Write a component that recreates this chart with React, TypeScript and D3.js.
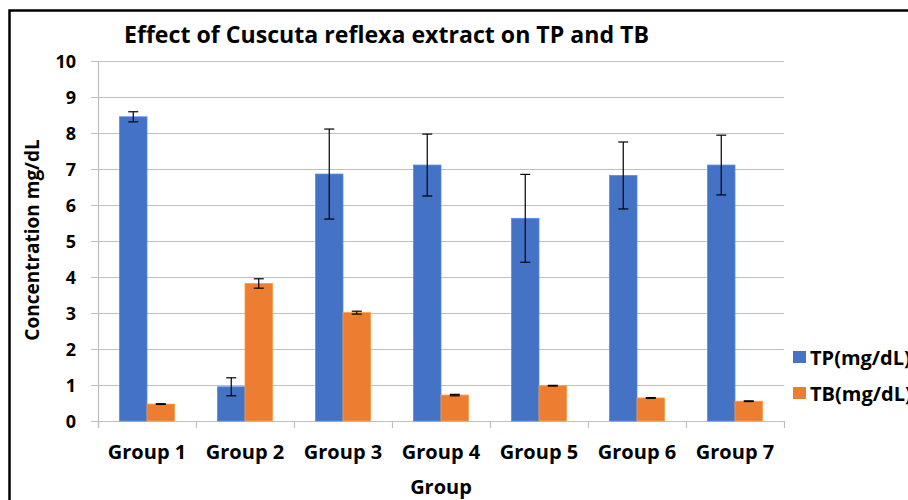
import React, { useEffect, useRef } from 'react';
import * as d3 from 'd3';

const groups = ['Group 1', 'Group 2', 'Group 3', 'Group 4', 'Group 5', 'Group 6', 'Group 7'];
const seriesNames = ['TP(mg/dL)', 'TB(mg/dL)'];
const tpValues = [8.45, 0.95, 6.86, 7.11, 5.63, 6.82, 7.11];
const tpErrors = [0.14, 0.25, 1.25, 0.86, 1.22, 0.93, 0.83];
const tbValues = [0.47, 3.82, 3.01, 0.72, 0.98, 0.64, 0.55];
const tbErrors = [0.01, 0.13, 0.04, 0.02, 0.01, 0.01, 0.01];
const yTicks = [0, 1, 2, 3, 4, 5, 6, 7, 8, 9, 10];

const colors = ['#4472C4', '#ED7D31'];
const FONT = '"Open Sans", "Noto Sans", sans-serif';

const App: React.FC = () => {
    const ref = useRef<SVGSVGElement>(null);

    useEffect(() => {
        const svg = d3.select(ref.current);
        svg.selectAll('*').remove();

        const width = 908;
        const height = 500;
        const plot = { left: 98, right: 784, top: 61, bottom: 421 };

        svg.append('rect')
            .attr('width', width)
            .attr('height', height)
            .attr('fill', '#fff');

        // outer frame, cropped at the right and bottom
        svg.append('rect')
            .attr('x', 9.5)
            .attr('y', 10.5)
            .attr('width', 1000)
            .attr('height', 600)
            .attr('fill', 'none')
            .attr('stroke', '#000')
            .attr('stroke-width', 2.5);

        const x = d3.scaleBand<string>()
            .domain(groups)
            .range([plot.left, plot.right])
            .paddingInner(0)
            .paddingOuter(0);

        const inner = d3.scaleBand<string>()
            .domain(seriesNames)
            .range([21.5, x.bandwidth() - 21.5]);

        const y = d3.scaleLinear()
            .domain([0, 10])
            .range([plot.bottom, plot.top]);

        // gridlines
        svg.append('g')
            .selectAll('line')
            .data(yTicks)
            .enter()
            .append('line')
            .attr('x1', plot.left - 7)
            .attr('x2', plot.right)
            .attr('y1', d => Math.round(y(d)) + 0.5)
            .attr('y2', d => Math.round(y(d)) + 0.5)
            .attr('stroke', '#BFBFBF')
            .attr('stroke-width', 1.2);

        // y axis line
        svg.append('line')
            .attr('x1', plot.left + 0.5)
            .attr('x2', plot.left + 0.5)
            .attr('y1', plot.top)
            .attr('y2', plot.bottom + 7)
            .attr('stroke', '#BFBFBF')
            .attr('stroke-width', 1.2);

        // x category ticks
        const tickXs = groups.map(g => x(g) as number).concat([plot.right]);
        svg.append('g')
            .selectAll('line')
            .data(tickXs)
            .enter()
            .append('line')
            .attr('x1', d => Math.round(d) + 0.5)
            .attr('x2', d => Math.round(d) + 0.5)
            .attr('y1', plot.bottom)
            .attr('y2', plot.bottom + 7)
            .attr('stroke', '#BFBFBF')
            .attr('stroke-width', 1.2);

        // y tick labels
        svg.append('g')
            .selectAll('text')
            .data(yTicks)
            .enter()
            .append('text')
            .attr('x', 76)
            .attr('y', d => y(d) + 6.5)
            .attr('text-anchor', 'end')
            .style('font-family', FONT)
            .style('font-size', '18px')
            .style('font-weight', 'bold')
            .attr('fill', '#000')
            .text(d => d);

        // x tick labels
        svg.append('g')
            .selectAll('text')
            .data(groups)
            .enter()
            .append('text')
            .attr('x', d => (x(d) as number) + x.bandwidth() / 2)
            .attr('y', 459)
            .attr('text-anchor', 'middle')
            .style('font-family', FONT)
            .style('font-size', '20px')
            .style('font-weight', 'bold')
            .attr('fill', '#000')
            .text(d => d);

        const series = [
            { name: seriesNames[0], values: tpValues, errors: tpErrors, color: colors[0] },
            { name: seriesNames[1], values: tbValues, errors: tbErrors, color: colors[1] },
        ];

        series.forEach(s => {
            const g = svg.append('g');
            g.selectAll('rect')
                .data(groups)
                .enter()
                .append('rect')
                .attr('x', d => (x(d) as number) + (inner(s.name) as number))
                .attr('width', inner.bandwidth())
                .attr('y', (_, i) => y(s.values[i]))
                .attr('height', (_, i) => y(0) - y(s.values[i]))
                .attr('fill', s.color)
                .attr('stroke', d3.color(s.color)!.brighter(0.6).formatHex())
                .attr('stroke-width', 0.8);

            const eg = svg.append('g')
                .attr('stroke', '#000')
                .attr('stroke-width', 1.2);
            groups.forEach((grp, i) => {
                const cx = (x(grp) as number) + (inner(s.name) as number) + inner.bandwidth() / 2;
                const hi = y(s.values[i] + s.errors[i]);
                const lo = y(s.values[i] - s.errors[i]);
                eg.append('line').attr('x1', cx).attr('x2', cx).attr('y1', hi).attr('y2', lo);
                eg.append('line').attr('x1', cx - 5).attr('x2', cx + 5).attr('y1', hi).attr('y2', hi);
                eg.append('line').attr('x1', cx - 5).attr('x2', cx + 5).attr('y1', lo).attr('y2', lo);
            });
        });

        // title
        svg.append('text')
            .attr('x', 124)
            .attr('y', 43)
            .attr('textLength', 525)
            .attr('lengthAdjust', 'spacingAndGlyphs')
            .style('font-family', FONT)
            .style('font-size', '23px')
            .style('font-weight', 'bold')
            .attr('fill', '#000')
            .text('Effect of Cuscuta reflexa extract on TP and TB');

        // axis titles
        svg.append('text')
            .attr('x', 441)
            .attr('y', 494)
            .attr('text-anchor', 'middle')
            .style('font-family', FONT)
            .style('font-size', '20px')
            .style('font-weight', 'bold')
            .attr('fill', '#000')
            .text('Group');

        svg.append('text')
            .attr('transform', `translate(39, 240) rotate(-90)`)
            .attr('text-anchor', 'middle')
            .style('font-family', FONT)
            .style('font-size', '19px')
            .style('font-weight', 'bold')
            .attr('fill', '#000')
            .text('Concentration mg/dL');

        // legend (cropped at the right edge, as in the reference)
        const legend = svg.append('g')
            .attr('transform', 'translate(793, 351)');

        legend.selectAll('rect')
            .data(series)
            .enter()
            .append('rect')
            .attr('x', 0)
            .attr('y', (_, i) => i * 36)
            .attr('width', 13)
            .attr('height', 12)
            .attr('fill', d => d.color);

        legend.selectAll('text')
            .data(series)
            .enter()
            .append('text')
            .attr('x', 17)
            .attr('y', (_, i) => i * 36 + 14)
            .style('font-family', FONT)
            .style('font-size', '20px')
            .style('font-weight', 'bold')
            .attr('fill', '#000')
            .text(d => d.name);
    }, []);

    return (
        <div style={{ position: 'fixed', left: 0, top: 0, width: 908, height: 500, overflow: 'hidden' }}>
            <svg ref={ref} width={908} height={500} style={{ display: 'block' }} />
        </div>
    );
};

export default App;
